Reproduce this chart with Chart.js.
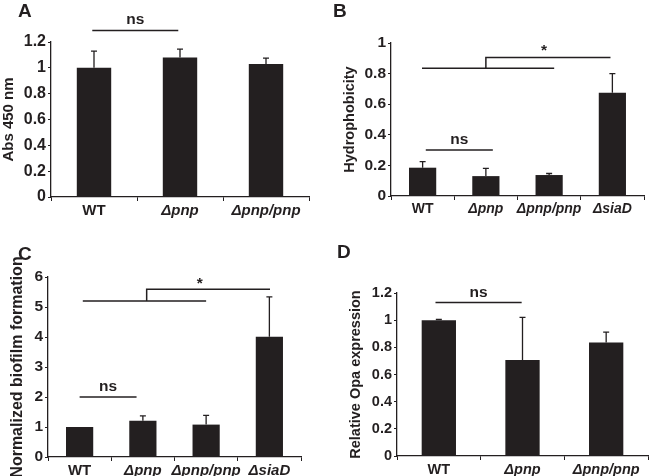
<!DOCTYPE html>
<html>
<head>
<meta charset="utf-8">
<script src="https://cdn.jsdelivr.net/npm/chart.js@4/dist/chart.umd.min.js"></script>
<style>
body { margin: 0; background: #fff; }
#wrap { position: relative; width: 650px; height: 476px; overflow: hidden; font-family: "Liberation Sans", Arial, sans-serif; }
canvas { position: absolute; }
.lbl { position: absolute; font-weight: bold; font-size: 19px; line-height: 19px; color: #231f20; }
</style>
</head>
<body>
<div id="wrap">
    <canvas id="chartA" width="325" height="236" style="left:0;top:0"></canvas>
    <canvas id="chartB" width="325" height="236" style="left:325px;top:0"></canvas>
    <canvas id="chartC" width="325" height="240" style="left:0;top:236px"></canvas>
    <canvas id="chartD" width="325" height="240" style="left:325px;top:236px"></canvas>
    <div class="lbl" style="left:18px;top:1px">A</div>
    <div class="lbl" style="left:333px;top:1px">B</div>
    <div class="lbl" style="left:18px;top:244px">C</div>
    <div class="lbl" style="left:337px;top:242px">D</div>
</div>
<script>
// data
const strains3 = ["WT", "Δpnp", "Δpnp/pnp"];
const strains4 = ["WT", "Δpnp", "Δpnp/pnp", "ΔsiaD"];

const absValues = [1.0, 1.08, 1.03];
const absErrors = [0.13, 0.065, 0.045];
const absTicks = [0, 0.2, 0.4, 0.6, 0.8, 1, 1.2];

const hydroValues = [0.185, 0.13, 0.137, 0.675];
const hydroErrors = [0.04, 0.05, 0.01, 0.125];
const hydroTicks = [0, 0.2, 0.4, 0.6, 0.8, 1];

const biofilmValues = [1.0, 1.21, 1.08, 4.01];
const biofilmErrors = [0, 0.16, 0.31, 1.33];
const biofilmTicks = [0, 1, 2, 3, 4, 5, 6];

const opaValues = [1.0, 0.706, 0.836];
const opaErrors = [0.005, 0.315, 0.076];
const opaTicks = [0, 0.2, 0.4, 0.6, 0.8, 1, 1.2];

// significance marks (category index / value units)
const nsA = { from: -0.02, to: 0.98, y: 1.29 };
const nsB = { from: 0.05, to: 1.11, y: 0.30 };
const starB = { from: -0.01, to: 2.08, y: 0.835, mid: 1.0, end: 2.97, top: 0.906, textX: 1.92, textY: 0.976 };
const nsC = { from: 0, to: 0.9, y: 2 };
const starC = { from: 0.05, to: 2.0, y: 5.2, mid: 1.06, end: 3.01, top: 5.59, textX: 1.9, textY: 5.93 };
const nsD = { from: -0.04, to: 0.99, y: 1.13 };

const INK = "#231f20";
const FONT = "'Liberation Sans', Arial, sans-serif";

function marksPlugin(errors, ns, star) {
    return {
        id: "marks",
        afterDatasetsDraw(chart) {
            const ctx = chart.ctx;
            const x = chart.scales.x, y = chart.scales.y;
            const values = chart.data.datasets[0].data;
            ctx.save();
            ctx.strokeStyle = INK;
            ctx.fillStyle = INK;
            ctx.lineWidth = 1.3;
            chart.getDatasetMeta(0).data.forEach((bar, i) => {
                if (!errors[i]) return;
                const top = y.getPixelForValue(values[i] + errors[i]);
                ctx.beginPath();
                ctx.moveTo(bar.x, bar.y);
                ctx.lineTo(bar.x, top);
                ctx.moveTo(bar.x - 3, top);
                ctx.lineTo(bar.x + 3, top);
                ctx.stroke();
            });

            ctx.lineWidth = 1.5;
            ctx.font = "bold 15.5px " + FONT;
            ctx.textAlign = "center";
            ctx.textBaseline = "alphabetic";

            if (ns) {
                const py = y.getPixelForValue(ns.y);
                const x1 = x.getPixelForValue(ns.from), x2 = x.getPixelForValue(ns.to);
                ctx.beginPath();
                ctx.moveTo(x1, py);
                ctx.lineTo(x2, py);
                ctx.stroke();
                ctx.fillText("ns", (x1 + x2) / 2, py - 6);
            }
            if (star) {
                const low = y.getPixelForValue(star.y), high = y.getPixelForValue(star.top);
                const mx = x.getPixelForValue(star.mid);
                ctx.beginPath();
                ctx.moveTo(x.getPixelForValue(star.from), low);
                ctx.lineTo(x.getPixelForValue(star.to), low);
                ctx.moveTo(mx, low);
                ctx.lineTo(mx, high);
                ctx.lineTo(x.getPixelForValue(star.end), high);
                ctx.stroke();
                ctx.fillText("*", x.getPixelForValue(star.textX), y.getPixelForValue(star.textY) + 8.5);
            }
            ctx.restore();
        }
    };
}

function crearPanel(id, p) {
    return new Chart(document.getElementById(id), {
        type: "bar",
        data: {
            labels: p.labels,
            datasets: [{
                data: p.values,
                backgroundColor: INK,
                borderWidth: 0,
                categoryPercentage: 1,
                barPercentage: p.barPct
            }]
        },
        options: {
            responsive: false,
            animation: false,
            layout: { padding: p.padding },
            plugins: { legend: { display: false }, tooltip: { enabled: false } },
            scales: {
                x: {
                    grid: { drawOnChartArea: false, tickLength: 4, tickColor: INK, offset: true },
                    border: { display: true, color: INK, width: 1.3 },
                    ticks: {
                        color: INK,
                        padding: p.xPad,
                        maxRotation: 0,
                        autoSkip: false,
                        font: ctx => ({ family: FONT, size: p.xSize, weight: "bold", style: ctx.index === 0 ? "normal" : "italic" })
                    },
                    afterFit: s => { s.height = p.xHeight; }
                },
                y: {
                    min: 0,
                    max: p.ticks[p.ticks.length - 1],
                    grid: { drawOnChartArea: false, tickLength: 3, tickColor: INK },
                    border: { display: true, color: INK, width: 1.3 },
                    afterBuildTicks: s => { s.ticks = p.ticks.map(v => ({ value: v })); },
                    ticks: {
                        color: INK,
                        padding: 2,
                        font: { family: FONT, size: p.ySize, weight: "bold" },
                        callback: v => String(v)
                    },
                    title: {
                        display: true,
                        text: p.title,
                        color: INK,
                        padding: 0,
                        font: { family: FONT, size: p.titleSize, weight: "bold", lineHeight: 1.2 }
                    },
                    afterFit: s => { s.width = p.yWidth; }
                }
            }
        },
        plugins: [marksPlugin(p.errors, p.ns, p.star)]
    });
}

crearPanel("chartA", {
    labels: strains3, values: absValues, errors: absErrors, ticks: absTicks,
    title: "Abs 450 nm", titleSize: 15, barPct: 0.4, xSize: 15, xPad: 1, ySize: 16,
    padding: { left: 0, top: 42, right: 16, bottom: 0 }, yWidth: 51, xHeight: 39,
    ns: nsA
});

crearPanel("chartB", {
    labels: strains4, values: hydroValues, errors: hydroErrors, ticks: hydroTicks,
    title: "Hydrophobicity", titleSize: 14.5, barPct: 0.43, xSize: 14, xPad: 1, ySize: 15.5,
    padding: { left: 16, top: 43, right: 6, bottom: 0 }, yWidth: 50, xHeight: 40,
    ns: nsB, star: starB
});

crearPanel("chartC", {
    labels: strains4, values: biofilmValues, errors: biofilmErrors, ticks: biofilmTicks,
    title: "Normalized biofilm formation", titleSize: 16, barPct: 0.43, xSize: 15, xPad: 1, ySize: 15.5,
    padding: { left: 8, top: 41, right: 24, bottom: 0 }, yWidth: 40, xHeight: 19,
    ns: nsC, star: starC
});

crearPanel("chartD", {
    labels: strains3, values: opaValues, errors: opaErrors, ticks: opaTicks,
    title: "Relative Opa expression", titleSize: 14.5, barPct: 0.41, xSize: 14.5, xPad: 1, ySize: 14.5,
    padding: { left: 22, top: 57, right: 2, bottom: 0 }, yWidth: 50, xHeight: 20,
    ns: nsD
});
</script>
</body>
</html>
